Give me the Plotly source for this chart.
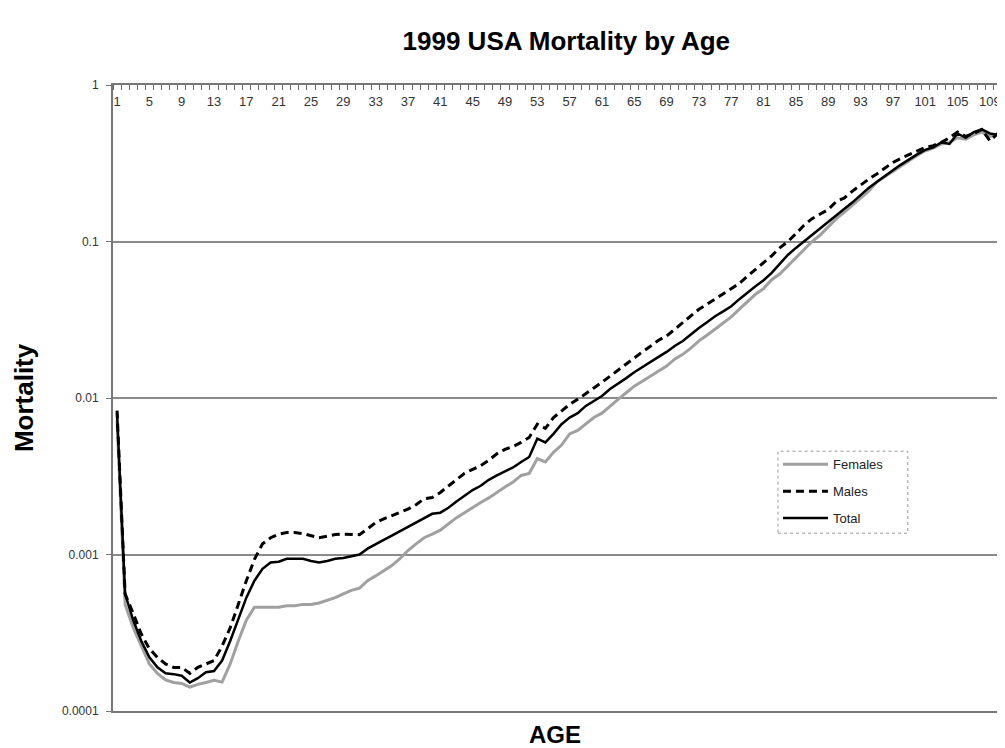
import plotly.graph_objects as go

ages = list(range(1, 111))

tick_vals = [1, 5, 9, 13, 17, 21, 25, 29, 33, 37, 41, 45, 49, 53, 57, 61, 65, 69, 73, 77,
             81, 85, 89, 93, 97, 101, 105, 109]
tick_text = ["1", "5", "9", "13", "17", "21", "25", "29", "33", "37", "41", "45", "49", "53",
             "57", "61", "65", "69", "73", "77", "81", "85", "89", "93", "97", "101", "105", "109"]

y_tick_vals = [0.0001, 0.001, 0.01, 0.1, 1]
y_tick_text = ["0.0001", "0.001", "0.01", "0.1", "1"]

total = [0.0080, 0.00056, 0.00038, 0.00028, 0.00022, 0.00019, 0.000174, 0.000172, 0.000168, 0.000152,
         0.000162, 0.000177, 0.00018, 0.00021, 0.00028, 0.00038, 0.00053, 0.00068, 0.00081, 0.00089,
         0.00090, 0.00094, 0.00094, 0.00094, 0.00091, 0.00089, 0.00091, 0.00094, 0.00095, 0.00098,
         0.00100, 0.00109, 0.00117, 0.00124, 0.00132, 0.00141, 0.00150, 0.00160, 0.00172, 0.00182,
         0.00185, 0.00199, 0.00218, 0.00237, 0.00258, 0.00275, 0.0030, 0.0032, 0.0034, 0.0036,
         0.0039, 0.0042, 0.0055, 0.0052, 0.0059, 0.0068, 0.0075, 0.0080, 0.0089, 0.0096,
         0.0103, 0.0114, 0.0123, 0.0134, 0.0146, 0.0158, 0.0170, 0.0183, 0.0197, 0.0215,
         0.0231, 0.0256, 0.0280, 0.0305, 0.0333, 0.0358, 0.0386, 0.0428, 0.0474, 0.0518,
         0.0566, 0.0630, 0.0720, 0.082, 0.091, 0.100, 0.110, 0.122, 0.133, 0.147,
         0.160, 0.178, 0.198, 0.220, 0.240, 0.260, 0.285, 0.310, 0.335, 0.360,
         0.385, 0.400, 0.430, 0.420, 0.490, 0.460, 0.500, 0.520, 0.490, 0.480]

males = [0.0083, 0.00056, 0.00042, 0.00031, 0.00025, 0.00022, 0.00020, 0.00019, 0.00019, 0.000174,
         0.00019, 0.00020, 0.00021, 0.00026, 0.00034, 0.00048, 0.00068, 0.00093, 0.00117, 0.00128,
         0.00135, 0.00138, 0.00138, 0.00136, 0.00132, 0.00128, 0.00131, 0.00134, 0.00135, 0.00135,
         0.00134, 0.00146, 0.00160, 0.00169, 0.00177, 0.00185, 0.00195, 0.00208, 0.00227, 0.00231,
         0.00249, 0.00274, 0.0030, 0.0033, 0.0035, 0.0037, 0.0040, 0.0044, 0.0047, 0.0049,
         0.0052, 0.0056, 0.0068, 0.0064, 0.0075, 0.0083, 0.0091, 0.0098, 0.0106, 0.0116,
         0.0126, 0.0138, 0.0151, 0.0164, 0.0180, 0.0197, 0.0214, 0.0234, 0.0249, 0.0275,
         0.0300, 0.0333, 0.0369, 0.0397, 0.0428, 0.046, 0.050, 0.054, 0.060, 0.066,
         0.073, 0.081, 0.091, 0.100, 0.112, 0.127, 0.140, 0.150, 0.160, 0.180,
         0.190, 0.210, 0.230, 0.250, 0.270, 0.295, 0.320, 0.340, 0.360, 0.380,
         0.400, 0.410, 0.430, 0.460, 0.500, 0.470, 0.490, 0.520, 0.440, 0.490]

females = [0.0072, 0.00048, 0.00034, 0.00026, 0.00020, 0.000174, 0.000158, 0.000152, 0.000150, 0.000142,
           0.000148, 0.000152, 0.000157, 0.000153, 0.00020, 0.00028, 0.00038, 0.00046, 0.00046, 0.00046,
           0.00046, 0.00047, 0.00047, 0.00048, 0.00048, 0.00049, 0.00051, 0.00053, 0.00056, 0.00059,
           0.00061, 0.00068, 0.00073, 0.00079, 0.00085, 0.00094, 0.00106, 0.00117, 0.00128, 0.00135,
           0.00143, 0.00157, 0.00172, 0.00185, 0.0020, 0.00215, 0.0023, 0.0025, 0.0027, 0.0029,
           0.0032, 0.0033, 0.0041, 0.0039, 0.0045, 0.0050, 0.0059, 0.0062, 0.0068, 0.0075,
           0.0080, 0.0089, 0.0098, 0.0108, 0.0119, 0.0128, 0.0138, 0.0149, 0.0160, 0.0177,
           0.0190, 0.0208, 0.0232, 0.0252, 0.0275, 0.0300, 0.0330, 0.0370, 0.0410, 0.0460,
           0.0500, 0.0570, 0.0620, 0.070, 0.078, 0.088, 0.100, 0.110, 0.124, 0.140,
           0.154, 0.170, 0.190, 0.210, 0.240, 0.260, 0.280, 0.305, 0.330, 0.355,
           0.380, 0.395, 0.420, 0.430, 0.460, 0.450, 0.480, 0.500, 0.470, 0.480]

FONT = "Arial, Liberation Sans, sans-serif"

fig = go.Figure()
fig.add_trace(go.Scatter(x=ages, y=females, name="Females", mode="lines",
                         line=dict(color="#a0a0a0", width=3), legendgroup="f"))
fig.add_trace(go.Scatter(x=ages, y=males, name="Males", mode="lines",
                         line=dict(color="black", width=3, dash="8px,5px"), legendgroup="m"))
fig.add_trace(go.Scatter(x=ages, y=total, name="Total", mode="lines", xaxis="x2",
                         line=dict(color="black", width=2.5), legendgroup="t"))

# page body has an 8px margin: figure is sized so the page ends at 1005x748
fig.update_layout(
    width=997, height=740,
    margin=dict(l=105, r=3, t=77, b=37, autoexpand=False),
    paper_bgcolor="white", plot_bgcolor="white",
    font=dict(family=FONT, color="#222"),
    showlegend=True,
    title=dict(text="<b>1999 USA Mortality by Age</b>", x=0.56, xanchor="center",
               y=0.955, yanchor="middle", font=dict(size=26, color="black")),
    legend=dict(x=0.748, y=0.418, xanchor="left", yanchor="top",
                bgcolor="rgba(0,0,0,0)", borderwidth=0, tracegroupgap=7,
                itemwidth=45,
                font=dict(size=13, color="#222")),
    xaxis=dict(
        range=[0.5, 110.5], side="top", automargin=False,
        showticklabels=False, ticks="",
        minor=dict(ticks="inside", tick0=0.5, dtick=1, ticklen=5, tickcolor="#666", tickwidth=1),
        showgrid=False, zeroline=False,
        showline=True, linecolor="#777", linewidth=2, mirror=True,
    ),
    xaxis2=dict(
        range=[0.5, 110.5], overlaying="x", anchor="free", position=1, side="bottom",
        automargin=False,
        tickmode="array", tickvals=tick_vals, ticktext=tick_text,
        ticks="", ticklabelstandoff=7,
        tickfont=dict(size=13, color="#333"),
        showgrid=False, zeroline=False, showline=False,
    ),
    yaxis=dict(
        type="log", range=[-4, 0], automargin=False,
        tickmode="array", tickvals=y_tick_vals, ticktext=y_tick_text,
        ticks="outside", ticklen=5, tickcolor="#777", tickwidth=1,
        ticklabelstandoff=5,
        tickfont=dict(size=12, color="#333"),
        showgrid=True, gridcolor="#8a8a8a", gridwidth=1.5,
        showline=True, linecolor="#777", linewidth=2, mirror=True,
        zeroline=False,
    ),
    annotations=[
        dict(text="<b>AGE</b>", x=0.497, y=-0.037, xref="paper", yref="paper",
             xanchor="center", yanchor="middle", showarrow=False,
             font=dict(size=24, color="black", family=FONT)),
        dict(text="<b>Mortality</b>", x=-0.1, y=0.5, xref="paper", yref="paper",
             xanchor="center", yanchor="middle", showarrow=False, textangle=-90,
             font=dict(size=26, color="black", family=FONT)),
    ],
    shapes=[
        dict(type="rect", xref="paper", yref="paper",
             x0=0.748, x1=0.894, y0=0.284, y1=0.415,
             line=dict(color="#999", width=1, dash="dot"), fillcolor="rgba(0,0,0,0)"),
    ],
)

fig.write_html("out.html")
